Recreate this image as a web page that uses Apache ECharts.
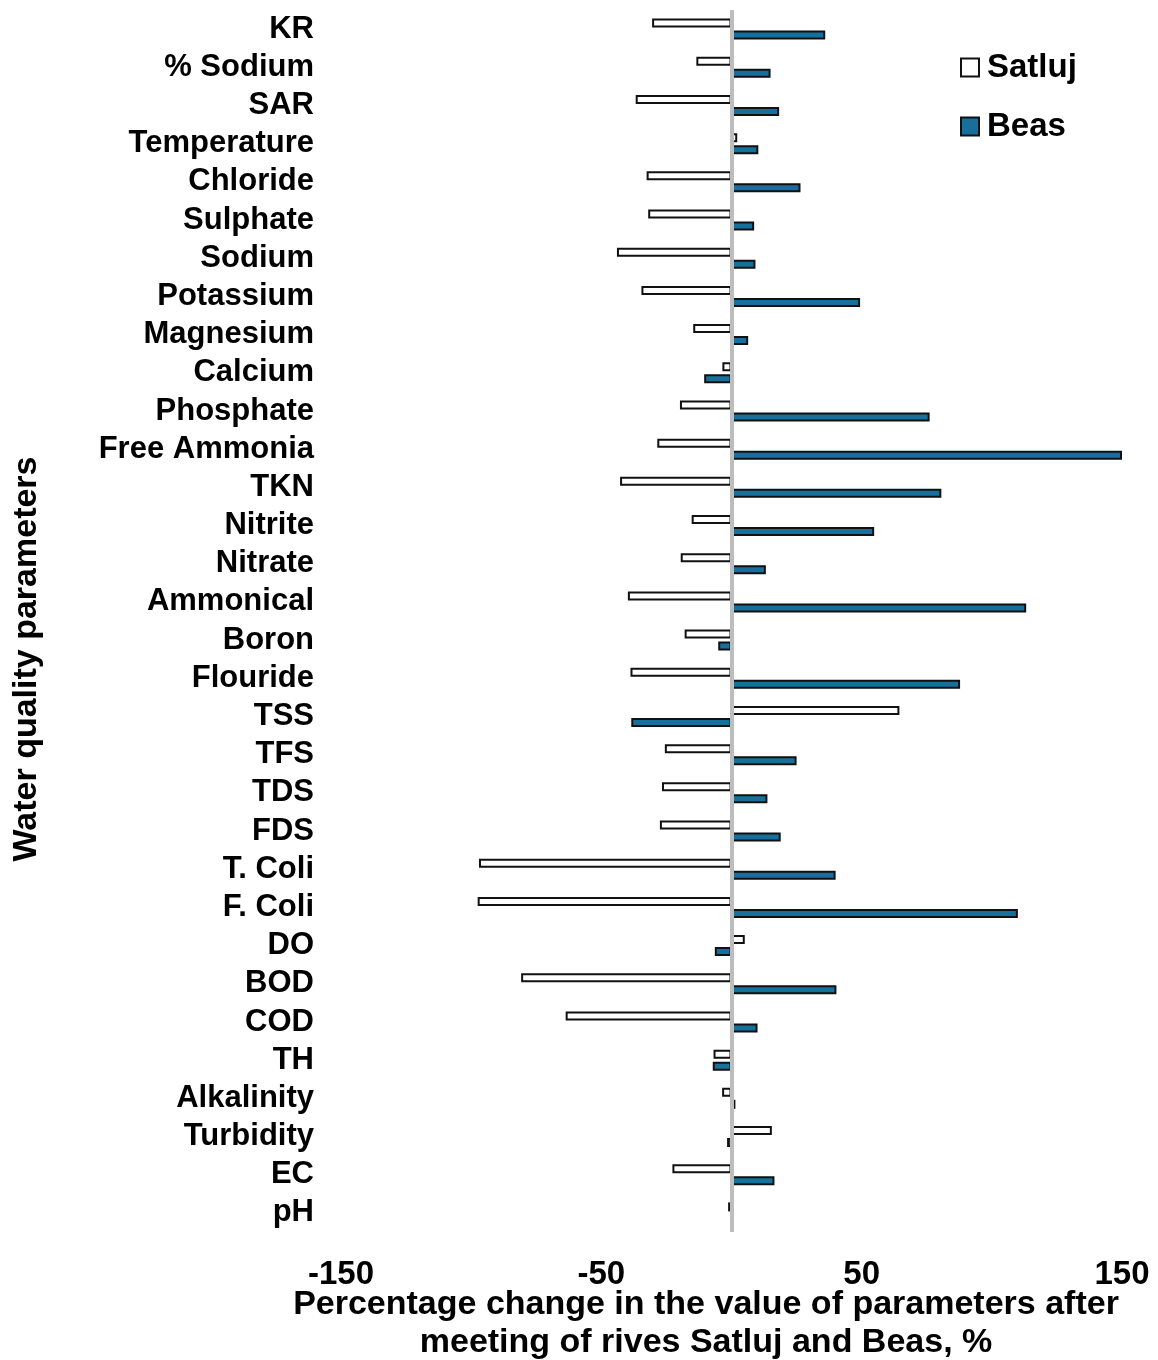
<!DOCTYPE html>
<html>
<head>
<meta charset="utf-8">
<script src="https://cdn.jsdelivr.net/npm/echarts@6/dist/echarts.min.js"></script>
<style>
  html, body { margin: 0; padding: 0; background: #fff; }
  #chart { width: 1158px; height: 1360px; }
</style>
</head>
<body>
<div id="chart"></div>
<script>
// Water quality parameters, listed top to bottom
const parameters = [
  'KR', '% Sodium', 'SAR', 'Temperature', 'Chloride', 'Sulphate', 'Sodium',
  'Potassium', 'Magnesium', 'Calcium', 'Phosphate', 'Free Ammonia', 'TKN',
  'Nitrite', 'Nitrate', 'Ammonical', 'Boron', 'Flouride', 'TSS', 'TFS', 'TDS',
  'FDS', 'T. Coli', 'F. Coli', 'DO', 'BOD', 'COD', 'TH', 'Alkalinity',
  'Turbidity', 'EC', 'pH'
];

// Percentage change after the confluence, per river
const satlujChange = [
  -30.5, -13.5, -36.8, 2.2, -32.6, -32, -44, -34.6, -14.7, -3.5, -19.8, -28.5,
  -42.8, -15.3, -19.5, -39.8, -18, -38.8, 64.5, -25.6, -26.7, -27.5, -97,
  -97.5, 5.1, -80.8, -63.7, -6.9, -3.6, 15.5, -22.7, -1.3
];
const beasChange = [
  36, 15, 18.3, 10.3, 26.5, 8.7, 9.2, 49.4, 6.4, -10.5, 76.1, 150, 80.6,
  54.8, 13.2, 113.2, -5.1, 87.8, -38.5, 25, 13.8, 18.9, 40, 110, -6.4, 40.3,
  10, -7.2, 1.5, -1.7, 16.5, 0
];

// Only these ticks carry a label
const labelledTicks = [-150, -50, 50, 150];

const seriesNames = ['Satluj', 'Beas'];

const chart = echarts.init(document.getElementById('chart'), null, { renderer: 'canvas' });

const boldSans = '"Liberation Sans", Arial, sans-serif';

chart.setOption({
  animation: false,
  backgroundColor: '#ffffff',
  title: {
    text: 'Percentage change in the value of parameters after\nmeeting of rives Satluj and Beas, %',
    left: 701,
    top: 1281,
    textAlign: 'center',
    textStyle: {
      fontFamily: boldSans,
      fontWeight: 'bold',
      fontSize: 34,
      lineHeight: 38,
      color: '#000'
    }
  },
  legend: {
    orient: 'vertical',
    left: 955,
    top: 46,
    icon: 'rect',
    itemWidth: 18,
    itemHeight: 18,
    itemGap: 26,
    data: seriesNames,
    textStyle: {
      fontFamily: boldSans,
      fontWeight: 'bold',
      fontSize: 33,
      color: '#000',
      padding: [0, 0, 0, 3]
    },
    itemStyle: { borderColor: '#111', borderWidth: 2 }
  },
  graphic: [{
    type: 'text',
    x: 27,
    y: 659,
    rotation: Math.PI / 2,
    style: {
      text: 'Water quality parameters',
      font: 'bold 34px ' + boldSans,
      fill: '#000',
      align: 'center',
      verticalAlign: 'middle'
    }
  }],
  grid: {
    left: 341,
    right: 36,
    top: 10,
    bottom: 128,
    containLabel: false
  },
  xAxis: {
    type: 'value',
    min: -150,
    max: 150,
    interval: 50,
    axisLine: { show: false },
    axisTick: { show: false },
    splitLine: { show: false },
    axisLabel: {
      margin: 26,
      fontFamily: boldSans,
      fontWeight: 'bold',
      fontSize: 33,
      color: '#000',
      formatter: v => labelledTicks.includes(v) ? String(v) : ''
    }
  },
  yAxis: {
    type: 'category',
    data: parameters,
    inverse: true,
    axisLine: { show: false, onZero: false },
    axisTick: { show: false },
    axisLabel: {
      interval: 0,
      margin: 27,
      fontFamily: boldSans,
      fontWeight: 'bold',
      fontSize: 31,
      color: '#000'
    }
  },
  series: [
    {
      name: 'Satluj',
      type: 'bar',
      data: satlujChange,
      barWidth: 9,
      barGap: '33%',
      itemStyle: { color: '#ffffff', borderColor: '#111', borderWidth: 2 },
      markLine: {
        silent: true,
        symbol: 'none',
        label: { show: false },
        lineStyle: { color: '#bdbdbd', width: 4, type: 'solid' },
        data: [{ xAxis: 0 }]
      }
    },
    {
      name: 'Beas',
      type: 'bar',
      data: beasChange,
      barWidth: 9,
      barGap: '33%',
      itemStyle: { color: '#17709c', borderColor: '#111', borderWidth: 2 }
    }
  ]
});
</script>
</body>
</html>
